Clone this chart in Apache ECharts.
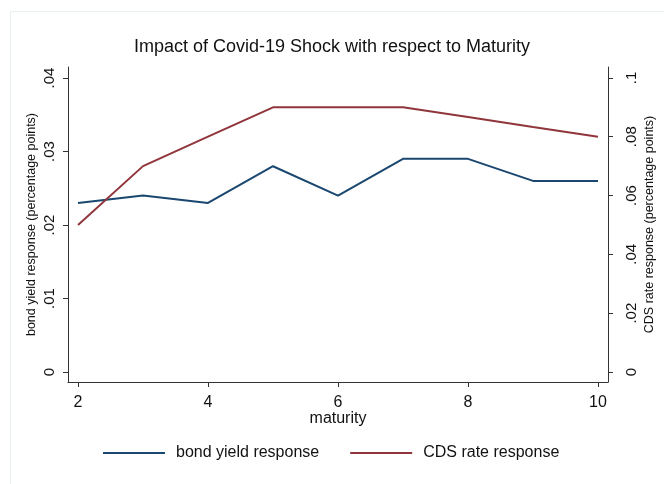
<!DOCTYPE html>
<html>
<head>
<meta charset="utf-8">
<script src="https://cdn.jsdelivr.net/npm/echarts@6/dist/echarts.min.js"></script>
<style>
html,body{margin:0;padding:0;background:#fff;}
#chart{width:664px;height:484px;}
</style>
</head>
<body>
<div id="chart"></div>
<script>
var maturity = [2, 3, 4, 5, 6, 7, 8, 9, 10];
var bondYield = [0.0230, 0.0240, 0.0230, 0.0280, 0.0240, 0.0290, 0.0290, 0.0260, 0.0260];
var cdsRate = [0.050, 0.070, 0.080, 0.090, 0.090, 0.090, 0.0867, 0.0833, 0.080];
var xTicks = [2, 4, 6, 8, 10];
var leftTicks = [0, 0.01, 0.02, 0.03, 0.04];
var rightTicks = [0, 0.02, 0.04, 0.06, 0.08, 0.1];

function pair(xs, ys) { return xs.map(function (x, i) { return [x, ys[i]]; }); }
function fmt(v) {
  if (Math.abs(v) < 1e-12) return '0';
  var s = String(Math.round(v * 1000) / 1000);
  return s.replace(/^0\./, '.');
}
var FONT = '"Liberation Sans", Arial, Helvetica, sans-serif';
var axisCol = '#333333';

var chart = echarts.init(document.getElementById('chart'), null, {renderer: 'canvas'});
chart.setOption({
  backgroundColor: '#ffffff',
  animation: false,
  graphic: [{
    type: 'rect', shape: {x: 10.5, y: 11.5, width: 680, height: 500},
    style: {fill: 'none', stroke: '#e8f0f0', lineWidth: 1}, silent: true
  }],
  title: {
    text: 'Impact of Covid-19 Shock with respect to Maturity',
    left: 'center', top: 38, padding: 0,
    textStyle: {fontFamily: FONT, fontSize: 18, fontWeight: 'normal', color: '#111'}
  },
  legend: {
    left: 103, top: 445, padding: 0,
    itemWidth: 62, itemHeight: 2, itemGap: 31,
    icon: 'rect',
    textStyle: {fontFamily: FONT, fontSize: 16, color: '#111', padding: [0, 0, 0, 6]},
    data: ['bond yield response', 'CDS rate response']
  },
  grid: {left: 68, right: 56, top: 67, bottom: 102, containLabel: false, outerBoundsMode: 'none'},
  xAxis: {
    type: 'value', min: 1.846, max: 10.154,
    name: 'maturity', nameLocation: 'middle', nameGap: 29, nameMoveOverlap: false,
    nameTextStyle: {fontFamily: FONT, fontSize: 16, color: '#111'},
    axisLine: {show: true, onZero: false, lineStyle: {color: axisCol, width: 1}},
    axisTick: {show: true, length: 5, customValues: xTicks, lineStyle: {color: axisCol}},
    axisLabel: {customValues: xTicks, margin: 13, fontFamily: FONT, fontSize: 16, color: '#111', formatter: function (v) { return String(v); }},
    splitLine: {show: false}
  },
  yAxis: [{
    type: 'value', position: 'left', min: -0.00136, max: 0.0415,
    name: 'bond yield response (percentage points)', nameLocation: 'middle', nameGap: 30, nameRotate: 90, nameMoveOverlap: false,
    nameTextStyle: {fontFamily: FONT, fontSize: 12.5, color: '#111'},
    axisLine: {show: true, onZero: false, lineStyle: {color: axisCol, width: 1}},
    axisTick: {show: true, length: 5, customValues: leftTicks, lineStyle: {color: axisCol}},
    axisLabel: {customValues: leftTicks, rotate: 90, margin: 11, fontFamily: FONT, fontSize: 15, color: '#111', formatter: fmt},
    splitLine: {show: false}
  }, {
    type: 'value', position: 'right', min: -0.0034, max: 0.1037,
    name: 'CDS rate response (percentage points)', nameLocation: 'middle', nameGap: 35, nameRotate: 90, nameMoveOverlap: false,
    nameTextStyle: {fontFamily: FONT, fontSize: 12.5, color: '#111'},
    axisLine: {show: true, onZero: false, lineStyle: {color: axisCol, width: 1}},
    axisTick: {show: true, length: 5, customValues: rightTicks, lineStyle: {color: axisCol}},
    axisLabel: {customValues: rightTicks, rotate: 90, margin: 16, fontFamily: FONT, fontSize: 15, color: '#111', formatter: fmt},
    splitLine: {show: false}
  }],
  series: [{
    name: 'bond yield response', type: 'line', yAxisIndex: 0,
    data: pair(maturity, bondYield), showSymbol: false, symbol: 'none',
    lineStyle: {color: '#1a476f', width: 2}, itemStyle: {color: '#1a476f'}
  }, {
    name: 'CDS rate response', type: 'line', yAxisIndex: 1,
    data: pair(maturity, cdsRate), showSymbol: false, symbol: 'none',
    lineStyle: {color: '#90353b', width: 2}, itemStyle: {color: '#90353b'}
  }]
});
</script>
</body>
</html>
